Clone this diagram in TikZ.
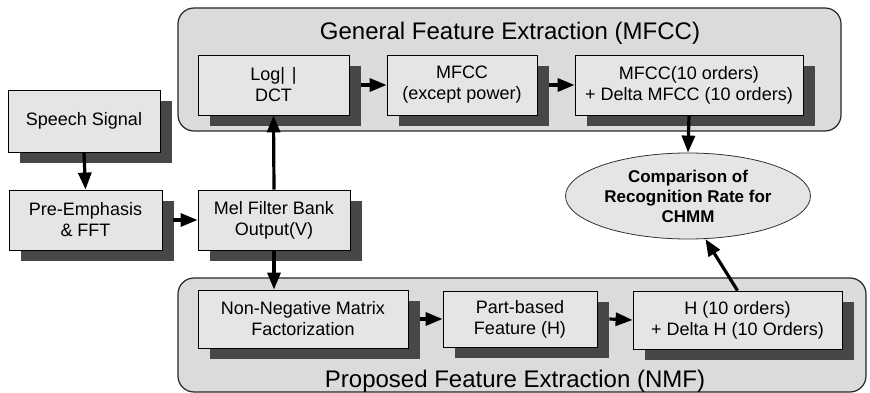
\documentclass[tikz,border=0pt]{standalone}
\usepackage{fontspec}
\setmainfont{Liberation Sans}
\usetikzlibrary{arrows.meta,shapes.geometric,shadows}
\definecolor{boxfill}{gray}{0.90}
\definecolor{contfill}{gray}{0.86}
\definecolor{shadowc}{gray}{0.28}
\begin{document}
\begin{tikzpicture}[x=1pt,y=-1pt,
  container/.style={draw=black!85, line width=1.2pt, fill=contfill, rounded corners=16pt},
  box/.style={draw=black, line width=0.8pt, fill=boxfill, align=center, inner sep=0pt,
    font=\fontsize{18}{21}\selectfont,
    general shadow={fill=shadowc, shadow xshift=12pt, shadow yshift=-11pt}},
  ttl/.style={font=\fontsize{24}{28}\selectfont, anchor=base, inner sep=0pt},
  arr/.style={line width=3.2pt, -{Triangle[length=17pt,width=13pt]}}]
\useasboundingbox (0,0) rectangle (870,393);
% containers
\path[container] (178,8) rectangle (841,131);
\path[container] (178,278) rectangle (866,392);
\node[ttl] (t1) at (510,40) {General Feature Extraction (MFCC)};
\node[ttl] (t2) at (515,387) {Proposed Feature Extraction (NMF)};
% boxes
\node[box, minimum width=152pt, minimum height=62pt] (speech) at (84,121) {Speech Signal};
\node[box, minimum width=153pt, minimum height=60pt] (pre) at (85.5,220) {Pre-Emphasis\\\& FFT};
\node[box, minimum width=152pt, minimum height=60pt] (mel) at (274,220) {Mel Filter Bank\\Output(V)};
\node[box, minimum width=151pt, minimum height=60pt] (log) at (273.5,85) {Log|\hspace{7pt}|\\DCT};
\node[box, minimum width=150pt, minimum height=60pt] (mfcc) at (462,85) {MFCC\\(except power)};
\node[box, minimum width=228pt, minimum height=60pt] (mfcc10) at (689,85) {MFCC(10 orders)\\+ Delta MFCC (10 orders)};
\node[box, minimum width=210pt, minimum height=58pt] (nmf) at (303,319) {Non-Negative Matrix\\Factorization};
\node[box, minimum width=154pt, minimum height=56pt] (part) at (520,319) {Part-based\\Feature (H)};
\node[box, minimum width=209pt, minimum height=58pt] (h) at (737.5,320) {H (10 orders)\\+ Delta H (10 Orders)};
\node[ellipse, draw=black!80, line width=0.8pt, fill=boxfill, minimum width=245pt, minimum height=86pt,
  inner sep=0pt, align=center, font=\bfseries\fontsize{17}{20}\selectfont] (ell) at (688,196)
  {Comparison of\\Recognition Rate for\\CHMM};
% arrows
\draw[arr] (speech.south) -- (pre.north);
\draw[arr] ([xshift=11pt]pre.east) -- (mel.west);
\draw[arr] (mel.north) -- (log.south);
\draw[arr] ([xshift=12pt]log.east) -- (mfcc.west);
\draw[arr] ([xshift=12pt]mfcc.east) -- (mfcc10.west);
\draw[arr] (mfcc10.south) -- (ell.north);
\draw[arr] (mel.south) -- ([xshift=-29pt]nmf.north);
\draw[arr] ([xshift=12pt]nmf.east) -- (part.west);
\draw[arr] ([xshift=12pt]part.east) -- (h.west);
\draw[arr] (h.north) -- (ell.-68);
\end{tikzpicture}
\end{document}
